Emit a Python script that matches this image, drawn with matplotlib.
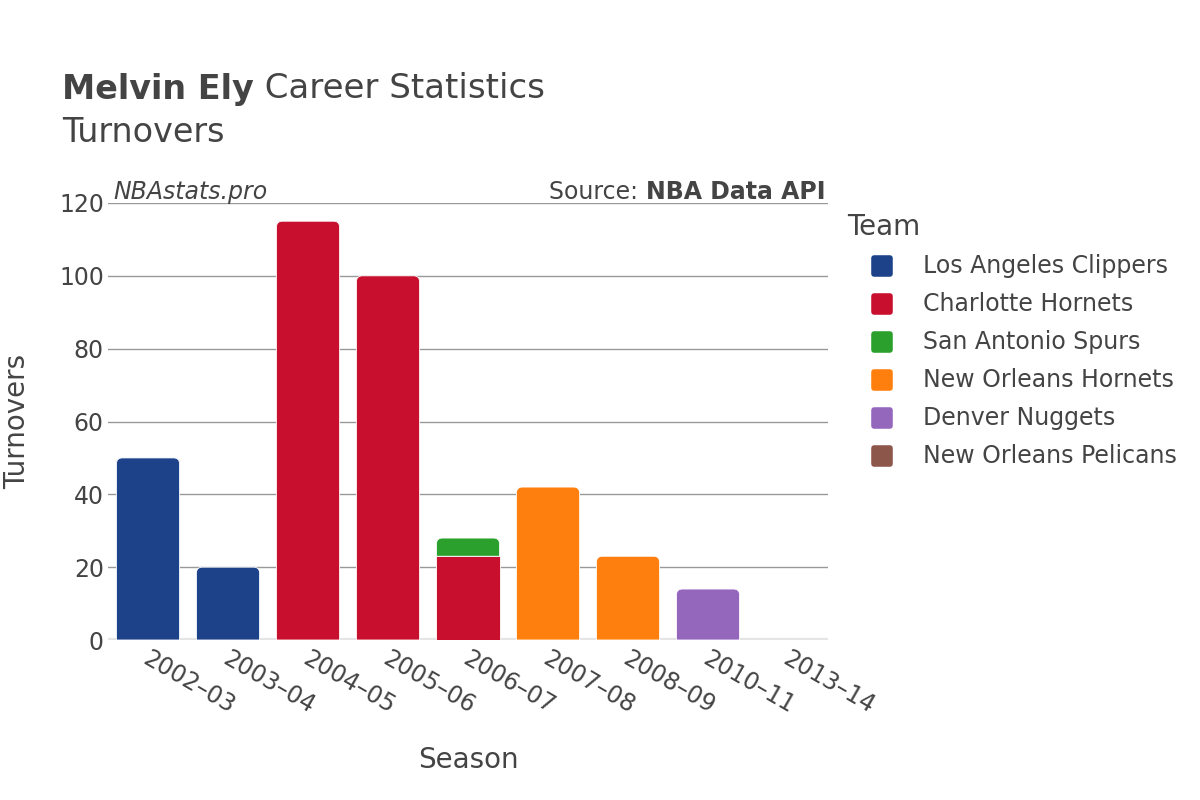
import matplotlib
matplotlib.use("Agg")
import matplotlib.pyplot as plt
from matplotlib.path import Path
from matplotlib.patches import PathPatch
from matplotlib.lines import Line2D
from matplotlib.markers import MarkerStyle
from matplotlib.transforms import ScaledTranslation
import numpy as np

seasons = ["2002–03", "2003–04", "2004–05", "2005–06", "2006–07",
           "2007–08", "2008–09", "2010–11", "2013–14"]
teams = ["Los Angeles Clippers", "Charlotte Hornets", "San Antonio Spurs",
         "New Orleans Hornets", "Denver Nuggets", "New Orleans Pelicans"]
colors = ["#1d428a", "#c8102e", "#2ca02c", "#ff7f0e", "#9467bd", "#8c564b"]
# turnovers per team per season
clippers = [50, 20, 0, 0, 0, 0, 0, 0, 0]
charlotte = [0, 0, 115, 100, 23, 0, 0, 0, 0]
spurs = [0, 0, 0, 0, 5, 0, 0, 0, 0]
no_hornets = [0, 0, 0, 0, 0, 42, 23, 0, 0]
denver = [0, 0, 0, 0, 0, 0, 0, 14, 0]
pelicans = [0, 0, 0, 0, 0, 0, 0, 0, 0]
series = [clippers, charlotte, spurs, no_hornets, denver, pelicans]
yticks = [0, 20, 40, 60, 80, 100, 120]

TXT = "#444444"
W, H = 1200, 800
fig = plt.figure(figsize=(12, 8), dpi=100)
plt.rcParams['font.family'] = ['DejaVu Sans']

ax_l, ax_r, ax_t, ax_b = 108, 828, 203, 640
ax = fig.add_axes([ax_l / W, 1 - ax_b / H, (ax_r - ax_l) / W, (ax_b - ax_t) / H])
x = np.arange(len(seasons))
ax.set_xlim(-0.5, len(seasons) - 0.5)
ax.set_ylim(0, 120)

px_x = (ax_r - ax_l) / len(seasons)
px_y = (ax_b - ax_t) / 120.0
r = 6.0
rx, ry = r / px_x, r / px_y


def top_rounded(x0, x1, y0, y1, round_top):
    if not round_top or (y1 - y0) < ry:
        verts = [(x0, y0), (x1, y0), (x1, y1), (x0, y1), (x0, y0)]
        codes = [Path.MOVETO] + [Path.LINETO] * 3 + [Path.CLOSEPOLY]
        return Path(verts, codes)
    verts = [(x0, y0), (x1, y0), (x1, y1 - ry), (x1, y1), (x1 - rx, y1),
             (x0 + rx, y1), (x0, y1), (x0, y1 - ry), (x0, y0)]
    codes = [Path.MOVETO, Path.LINETO, Path.LINETO, Path.CURVE3, Path.CURVE3,
             Path.LINETO, Path.CURVE3, Path.CURVE3, Path.CLOSEPOLY]
    return Path(verts, codes)


bottoms = np.zeros(len(seasons))
totals = np.sum(np.array(series), axis=0)
for vals, col in zip(series, colors):
    vals = np.array(vals, dtype=float)
    bars = ax.bar(x, vals, width=0.79, bottom=bottoms, color=col)
    for i, b in enumerate(bars):
        b.set_visible(False)
        if vals[i] <= 0:
            continue
        x0, y0 = b.get_x(), b.get_y()
        x1, y1 = x0 + b.get_width(), y0 + b.get_height()
        is_top = abs(y1 - totals[i]) < 1e-9
        p = PathPatch(top_rounded(x0, x1, y0, y1, is_top), facecolor=col,
                      edgecolor="white", linewidth=0.6, zorder=3)
        ax.add_patch(p)
    bottoms += vals

ax.set_yticks(yticks)
ax.set_yticklabels([str(t) for t in yticks], fontsize=17, color=TXT)
ax.yaxis.grid(True, color="#999999", linewidth=1)
ax.axhline(0, color="#e5e5e5", linewidth=3, zorder=2)
ax.set_axisbelow(True)
for s in ax.spines.values():
    s.set_visible(False)
ax.tick_params(axis="both", length=0)
ax.tick_params(axis="y", pad=3)
ax.set_xticks(x)
ax.set_xticklabels(seasons, rotation=-30, ha="left", va="top",
                   rotation_mode="anchor", fontsize=17, color=TXT)
ax.tick_params(axis="x", pad=5)
offset = ScaledTranslation(3 / 100, 0, fig.dpi_scale_trans)
for lbl in ax.get_xticklabels():
    lbl.set_transform(lbl.get_transform() + offset)

fig.text((ax_l + ax_r) / 2 / W, 1 - 760 / H, "Season", ha="center", va="center",
         fontsize=20, color=TXT)
fig.text(17 / W, 1 - 421 / H, "Turnovers", ha="center", va="center",
         rotation=90, fontsize=20, color=TXT)

t1 = fig.text(62 / W, 1 - 89 / H, "Melvin Ely", fontsize=24, fontweight="bold",
              color=TXT, va="center", ha="left")
fig.canvas.draw()
bb = t1.get_window_extent()
fig.text(bb.x1 / W, 1 - 89 / H, " Career Statistics", fontsize=24.5, color=TXT,
         va="center", ha="left")
fig.text(62 / W, 1 - 132 / H, "Turnovers", fontsize=24, color=TXT,
         va="center", ha="left")

fig.text(113 / W, 1 - 192 / H, "NBAstats.pro", fontsize=17, style="italic",
         color=TXT, va="center", ha="left")
t2 = fig.text(825 / W, 1 - 192 / H, "NBA Data API", fontsize=17, fontweight="bold",
              color=TXT, va="center", ha="right")
fig.canvas.draw()
bb2 = t2.get_window_extent()
fig.text(bb2.x0 / W, 1 - 192 / H, "Source: ", fontsize=17, color=TXT,
         va="center", ha="right")

# legend
fig.text(847 / W, 1 - 227 / H, "Team", fontsize=20, color=TXT, va="center", ha="left")
for k, (team, col) in enumerate(zip(teams, colors)):
    yc = 1 - (266 + 38 * k) / H
    m = MarkerStyle("s", joinstyle="round")
    fig.add_artist(Line2D([882 / W], [yc], marker=m, markersize=12,
                          markerfacecolor=col, markeredgecolor=col,
                          markeredgewidth=4, transform=fig.transFigure))
    fig.text(923 / W, yc, team, fontsize=17, color=TXT, va="center", ha="left")

fig.savefig("out.png", dpi=100)
